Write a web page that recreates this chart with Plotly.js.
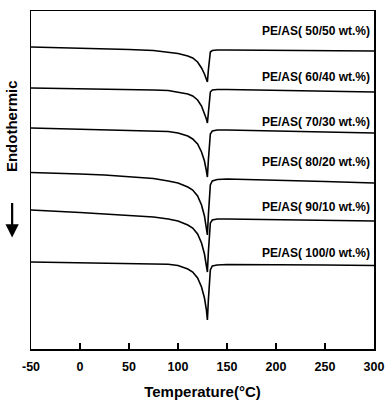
<!DOCTYPE html>
<html>
<head>
<meta charset="utf-8">
<script src="https://cdn.plot.ly/plotly-3.0.1.min.js"></script>
<style>html,body{margin:0;padding:0;background:#fff;}#chart{width:385px;height:403px;}</style>
</head>
<body>
<div id="chart"></div>
<script>
// Temperature (°C)
const temps = [-50, -25, 0, 25, 50, 75, 90, 100, 110, 115, 120, 124, 127, 129, 130, 131, 132, 133, 135, 140, 150, 200, 250, 300];
// Heat flow (arbitrary units, curves stacked, endothermic down)
const pe50 = [302, 301.5, 301, 300.5, 299.5, 298.5, 297, 295.5, 293, 291, 287, 281, 275, 270, 267, 279, 291, 297, 298.5, 299, 299, 298.5, 298, 298];
const pe60 = [261, 260.7, 260.4, 260, 259.5, 259, 258.5, 257, 255, 253, 249, 243, 236, 230, 226, 239, 251, 257, 259, 259.5, 259.5, 258.5, 258, 257];
const pe70 = [221, 220.5, 220, 219.5, 219, 218.5, 217.5, 216, 213, 210, 205, 197, 188, 178, 172, 189, 206, 215, 218, 219, 219, 218, 217, 216];
const pe80 = [176.5, 176, 175, 174, 172.5, 170.5, 168, 166, 162, 159, 153, 144, 133, 121, 114, 134, 154, 164, 168, 169.5, 170, 169, 167.5, 166];
const pe90 = [139, 138, 136.5, 135, 133.5, 132, 130, 128, 124, 121, 115, 106, 95, 84, 77, 97, 117, 126, 129, 130, 130, 129.5, 129, 128];
const pe100 = [87, 86.7, 86.4, 86, 85.7, 85.3, 84.8, 83.5, 80, 77, 71, 62, 51, 39, 29, 49, 69, 79, 83, 84, 84.5, 84.5, 84, 83.5];
const labels = ['PE/AS( 50/50 wt.%)', 'PE/AS( 60/40 wt.%)', 'PE/AS( 70/30 wt.%)', 'PE/AS( 80/20 wt.%)', 'PE/AS( 90/10 wt.%)', 'PE/AS( 100/0 wt.%)'];
const labelY = [318, 272, 227, 187, 142, 96];
const xTicks = [-50, 0, 50, 100, 150, 200, 250, 300];

const series = [pe50, pe60, pe70, pe80, pe90, pe100];
const traces = series.map((s, i) => ({
  x: temps, y: s, type: 'scatter', mode: 'lines', name: labels[i],
  line: {color: '#000', width: 1.6}, hoverinfo: 'skip'
}));

const F = 'Liberation Sans, Arial, sans-serif';
const annotations = labels.map((t, i) => ({
  x: 298, y: labelY[i], xref: 'x', yref: 'y', text: '<b>' + t + '</b>',
  showarrow: false, xanchor: 'right', yanchor: 'middle',
  font: {family: F, size: 12, color: '#000'}
}));
// y-axis caption
annotations.push({
  xref: 'paper', yref: 'paper', x: -0.055, y: 0.66, xanchor: 'center', yanchor: 'middle',
  text: '<b>Endothermic</b>', textangle: -90, showarrow: false,
  font: {family: F, size: 15, color: '#000'}
});
// downward arrow under the caption
annotations.push({
  xref: 'paper', yref: 'paper', x: -0.055, y: 0.33, ax: 0, ay: -36,
  text: '', showarrow: true, arrowhead: 2, arrowsize: 1.2, arrowwidth: 2.2, arrowcolor: '#000'
});

const layout = {
  width: 385, height: 403,
  margin: {l: 31, r: 11, t: 11, b: 54},
  paper_bgcolor: '#fff', plot_bgcolor: '#fff',
  showlegend: false,
  font: {family: F, color: '#000'},
  xaxis: {
    range: [-50, 300], tickvals: xTicks, ticktext: xTicks.map(String),
    ticks: 'inside', ticklen: 6, tickwidth: 1.3, tickcolor: '#000',
    ticklabelstandoff: 5,
    showline: true, linecolor: '#000', linewidth: 1.5, mirror: true,
    showgrid: false, zeroline: false,
    tickfont: {family: F, size: 12.5, color: '#000', weight: 'bold'},
    title: {text: '<b>Temperature(°C)</b>', font: {family: F, size: 15, color: '#000'}, standoff: 14}
  },
  yaxis: {
    range: [0, 338], showticklabels: false, ticks: '',
    showline: true, linecolor: '#000', linewidth: 1.5, mirror: true,
    showgrid: false, zeroline: false
  },
  annotations: annotations
};

Plotly.newPlot('chart', traces, layout, {displayModeBar: false, staticPlot: true});
</script>
</body>
</html>
